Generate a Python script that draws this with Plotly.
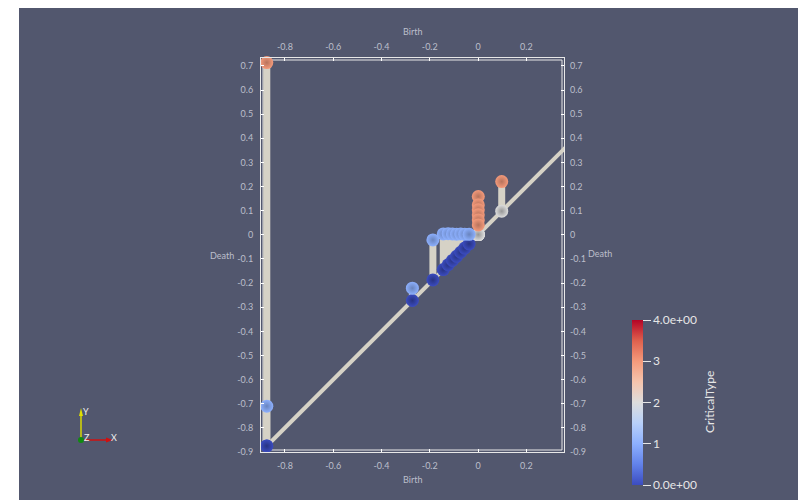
import plotly.graph_objects as go

# ---------------- data ----------------
birth = [-0.875, -0.875, -0.272, -0.187, -0.144, -0.124, -0.106, -0.089, -0.072, -0.055, -0.037,
         0.001, 0.001, 0.001, 0.001, 0.001, 0.001, 0.098]
death = [0.714, -0.710, -0.221, -0.021, 0.004, 0.005, 0.004, 0.003, 0.004, 0.003, 0.002,
         0.159, 0.124, 0.104, 0.083, 0.062, 0.041, 0.221]
birth_type = [0, 0, 0, 0, 0, 0, 0, 0, 0, 0, 0, 2, 2, 2, 2, 2, 2, 2]
death_type = [3, 1, 1, 1, 1, 1, 1, 1, 1, 1, 1, 3, 3, 3, 3, 3, 3, 3]
diag = [-0.875, 0.40]
x_ticks = [-0.8, -0.6, -0.4, -0.2, 0, 0.2]
x_ticktext = ["-0.8", "-0.6", "-0.4", "-0.2", "0", "0.2"]
y_ticks = [-0.9, -0.8, -0.7, -0.6, -0.5, -0.4, -0.3, -0.2, -0.1, 0, 0.1, 0.2, 0.3, 0.4, 0.5, 0.6, 0.7]
y_ticktext = ["-0.9", "-0.8", "-0.7", "-0.6", "-0.5", "-0.4", "-0.3", "-0.2", "-0.1", "0",
              "0.1", "0.2", "0.3", "0.4", "0.5", "0.6", "0.7"]
cbar_vals = [0, 1, 2, 3, 4]
cbar_text = ["0.0e+00", "1", "2", "3", "4.0e+00"]

# ---------------- style ----------------
BG = "#52576e"
TXT = "#bcbfcb"
BAR = "#d6d2c6"
coolwarm = [
    [0.0, "rgb(59,76,192)"], [0.125, "rgb(98,130,234)"], [0.25, "rgb(141,176,254)"],
    [0.375, "rgb(184,208,249)"], [0.5, "rgb(221,221,221)"], [0.625, "rgb(245,196,173)"],
    [0.75, "rgb(244,154,123)"], [0.875, "rgb(222,96,77)"], [1.0, "rgb(180,4,38)"],
]


def cw(v, f=1.0):
    t = v / 4.0
    for i in range(len(coolwarm) - 1):
        a, ca = coolwarm[i]
        b, cb = coolwarm[i + 1]
        if a <= t <= b:
            u = (t - a) / (b - a)
            pa = [int(s) for s in ca[4:-1].split(",")]
            pb = [int(s) for s in cb[4:-1].split(",")]
            c = [int((pa[k] + (pb[k] - pa[k]) * u) * f) for k in range(3)]
            return "rgb(%d,%d,%d)" % tuple(c)
    return coolwarm[-1][1]


W, H = 806, 500
OFF = 8  # page body margin
L, R, T, B = 261, 564, 58, 452  # plot box in screen pixels


def PX(px):
    return (px - L) / (R - L)


def PY(py):
    return (B - py) / (B - T)


fig = go.Figure()

# diagonal
fig.add_trace(go.Scatter(x=diag, y=diag, mode="lines",
                         line=dict(color=BAR, width=4), hoverinfo="skip", showlegend=False))

# vertical persistence bars
bx, by = [], []
for b, d in zip(birth, death):
    bx += [b, b, None]
    by += [b, d, None]
fig.add_trace(go.Scatter(x=bx, y=by, mode="lines",
                         line=dict(color=BAR, width=7), hoverinfo="skip", showlegend=False))

# birth points (on diagonal)
fig.add_trace(go.Scatter(
    x=birth, y=birth, mode="markers", cliponaxis=False, showlegend=False,
    marker=dict(size=13, color=birth_type, colorscale=coolwarm, cmin=0, cmax=4,
                gradient=dict(type="radial", color=[cw(v, 0.68) for v in birth_type]),
                line=dict(width=0))))

# death points, with colorbar
fig.add_trace(go.Scatter(
    x=birth, y=death, mode="markers", cliponaxis=False, showlegend=False,
    marker=dict(size=13, color=death_type, colorscale=coolwarm, cmin=0, cmax=4,
                gradient=dict(type="radial", color=[cw(v, 0.75) for v in death_type]),
                line=dict(width=0),
                colorbar=dict(
                    x=PX(632), xanchor="left", y=PY(402.5), yanchor="middle",
                    len=165, lenmode="pixels", thickness=11, xpad=0, ypad=0,
                    outlinewidth=0, ticks="outside", ticklen=8, tickcolor="#e6e6e6",
                    tickvals=cbar_vals, ticktext=cbar_text,
                    tickfont=dict(size=12, color="#e6e6e6", family="Lato"),
                    title=dict(text=""),
                ))))

# dummy trace for top/right axes
fig.add_trace(go.Scatter(x=[None], y=[None], xaxis="x2", yaxis="y2", showlegend=False))

axfont = dict(size=9, color=TXT, family="Lato")
common = dict(showgrid=False, zeroline=False, ticks="inside", ticklen=3, tickcolor="#ffffff",
              tickfont=axfont, fixedrange=True, ticklabelstandoff=5)
xr = [-0.899, 0.356]
yr = [-0.9, 0.733]

fig.update_layout(
    width=W, height=H,
    margin=dict(l=L - OFF, r=W - (R - OFF), t=T - OFF, b=H - (B - OFF), pad=0, autoexpand=False),
    paper_bgcolor="#ffffff", plot_bgcolor=BG,
    xaxis=dict(range=xr, tickvals=x_ticks, ticktext=x_ticktext, showline=True, mirror=True,
               linecolor="#e8e8e8", linewidth=1, **common),
    yaxis=dict(range=yr, tickvals=y_ticks, ticktext=y_ticktext, showline=True, mirror=True,
               linecolor="#e8e8e8", linewidth=1, **common),
    xaxis2=dict(range=xr, overlaying="x", side="top", tickvals=x_ticks, ticktext=x_ticktext,
                showline=False, **common),
    yaxis2=dict(range=yr, overlaying="y", side="right", tickvals=y_ticks, ticktext=y_ticktext,
                showline=False, **common),
    font=dict(family="Lato"),
)

shapes = [
    dict(type="rect", xref="paper", yref="paper", x0=PX(19), x1=PX(806), y0=PY(500), y1=PY(6),
         fillcolor=BG, line=dict(width=0), layer="below"),
    dict(type="rect", xref="paper", yref="paper", x0=PX(L + 2), x1=PX(R - 2), y0=PY(B - 2),
         y1=PY(T + 2), line=dict(color="#e8e8e8", width=1), layer="below"),
    # triad
    dict(type="line", xref="paper", yref="paper", x0=PX(81), x1=PX(81), y0=PY(440), y1=PY(414),
         line=dict(color="#d8d800", width=1.5)),
    dict(type="path", xref="paper", yref="paper",
         path="M %f %f L %f %f L %f %f Z" % (PX(79), PY(416), PX(83), PY(416), PX(81), PY(408)),
         fillcolor="#e0e000", line=dict(width=0)),
    dict(type="line", xref="paper", yref="paper", x0=PX(81), x1=PX(108), y0=PY(440), y1=PY(440),
         line=dict(color="#d01010", width=1.5)),
    dict(type="path", xref="paper", yref="paper",
         path="M %f %f L %f %f L %f %f Z" % (PX(106), PY(437.5), PX(106), PY(442.5), PX(113), PY(440)),
         fillcolor="#d01010", line=dict(width=0)),
    dict(type="circle", xref="paper", yref="paper", x0=PX(78), x1=PX(84), y0=PY(443), y1=PY(437),
         fillcolor="#108a10", line=dict(width=0)),
]
fig.update_layout(shapes=shapes)


def note(text, px, py, font, angle=0):
    return dict(text=text, x=PX(px), y=PY(py), xref="paper", yref="paper", showarrow=False,
                xanchor="center", yanchor="middle", textangle=angle, font=font)


tf = dict(size=9, color=TXT, family="Lato")
wf = dict(size=9, color="#f0f0f0", family="Lato")
ann = [
    note("Birth", 412, 31, tf),
    note("Birth", 412, 479, tf),
    note("Death", 222, 255, tf),
    note("Death", 600, 253, tf),
    note("CriticalType", 709, 402, dict(size=12, color="#e6e6e6", family="Lato"), -90),
    note("Y", 86, 411, wf),
    note("X", 114, 437, wf),
    note("Z", 87, 437, wf),
]
fig.update_layout(annotations=ann)

fig.write_html("out.html")
